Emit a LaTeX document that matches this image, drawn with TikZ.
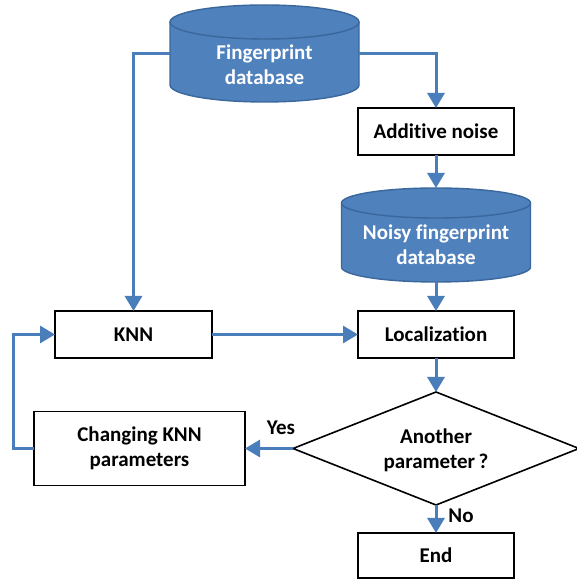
\documentclass[tikz,border=0pt]{standalone}
\usepackage{fontspec}
\setmainfont{Carlito}[Ligatures=NoCommon]
\usetikzlibrary{arrows.meta,shapes.geometric}
\definecolor{cylfill}{HTML}{4F81BD}
\definecolor{cylline}{HTML}{3A679C}
\definecolor{arrowblue}{HTML}{4A7EBB}
\begin{document}
\begin{tikzpicture}[x=1pt,y=1pt,
  every node/.style={font=\fontsize{21}{25}\selectfont\bfseries, align=center, outer sep=0pt, inner sep=0pt},
  procbox/.style={draw=black, line width=1.6pt, fill=white, rectangle},
  cylarea/.style={rectangle, minimum width=189pt},
  cyltext/.style={text=white},
  decision/.style={diamond, draw=black, line width=1.6pt, fill=white, minimum width=286pt, minimum height=113pt, aspect=2.5},
  flow/.style={draw=arrowblue, line width=3pt, -{Triangle[length=15pt,width=17pt]}},
  cylbody/.style={fill=cylfill, draw=cylline, line width=1.4pt}
]
\useasboundingbox (0,0) rectangle (577,580);

% Fingerprint database cylinder
\fill[cylfill] (170,558) -- (170,495) arc[start angle=180,end angle=360,x radius=94.5,y radius=17] -- (359,558) -- cycle;
\draw[draw=cylline, line width=1.4pt] (170,558) -- (170,495) arc[start angle=180,end angle=360,x radius=94.5,y radius=17] -- (359,558);
\draw[cylbody] (264.5,558) ellipse[x radius=94.5,y radius=17];
\node[cylarea, minimum height=97pt] (db) at (264.5,526.5) {};
\node[cyltext] (dbt) at (264.5,515.5) {Fingerprint\\database};

% Noisy fingerprint database cylinder
\fill[cylfill] (341.5,377) -- (341.5,313) arc[start angle=180,end angle=360,x radius=94.5,y radius=15] -- (530.5,377) -- cycle;
\draw[draw=cylline, line width=1.4pt] (341.5,377) -- (341.5,313) arc[start angle=180,end angle=360,x radius=94.5,y radius=15] -- (530.5,377);
\draw[cylbody] (436,377) ellipse[x radius=94.5,y radius=15];
\node[cylarea, minimum height=94pt] (noisy) at (436,345) {};
\node[cyltext] (noisyt) at (436,335.5) {Noisy fingerprint\\database};

% Process boxes
\node[procbox, minimum width=156pt, minimum height=47pt] (add) at (436,448.5) {Additive noise};
\node[procbox, minimum width=157pt, minimum height=47pt] (knn) at (133.5,245.5) {KNN};
\node[procbox, minimum width=156pt, minimum height=47pt] (loc) at (436,245.5) {Localization};
\node[decision] (dia) at (436,131.5) {};
\node (diat) at (436,130) {Another\\parameter\,?};
\node[procbox, minimum width=211pt, minimum height=74pt] (chg) at (139.5,131.5) {Changing KNN\\parameters};
\node[procbox, minimum width=156pt, minimum height=45pt] (end) at (436,24.5) {End};

% Labels
\node (yes) at (281,152) {Yes};
\node (no) at (461,64) {No};

% Connectors
\draw[flow] (db.west) -| (knn.north);
\draw[flow] (db.east) -| (add.north);
\draw[flow] (add.south) -- (noisy.north);
\draw[flow] (noisy.south) -- (loc.north);
\draw[flow] (knn.east) -- (loc.west);
\draw[flow] (loc.south) -- (dia.north);
\draw[flow] (dia.west) -- (chg.east);
\draw[flow] (dia.south) -- (end.north);
\draw[flow] (chg.west) -- ++(-21,0) |- (knn.west);
\end{tikzpicture}
\end{document}
